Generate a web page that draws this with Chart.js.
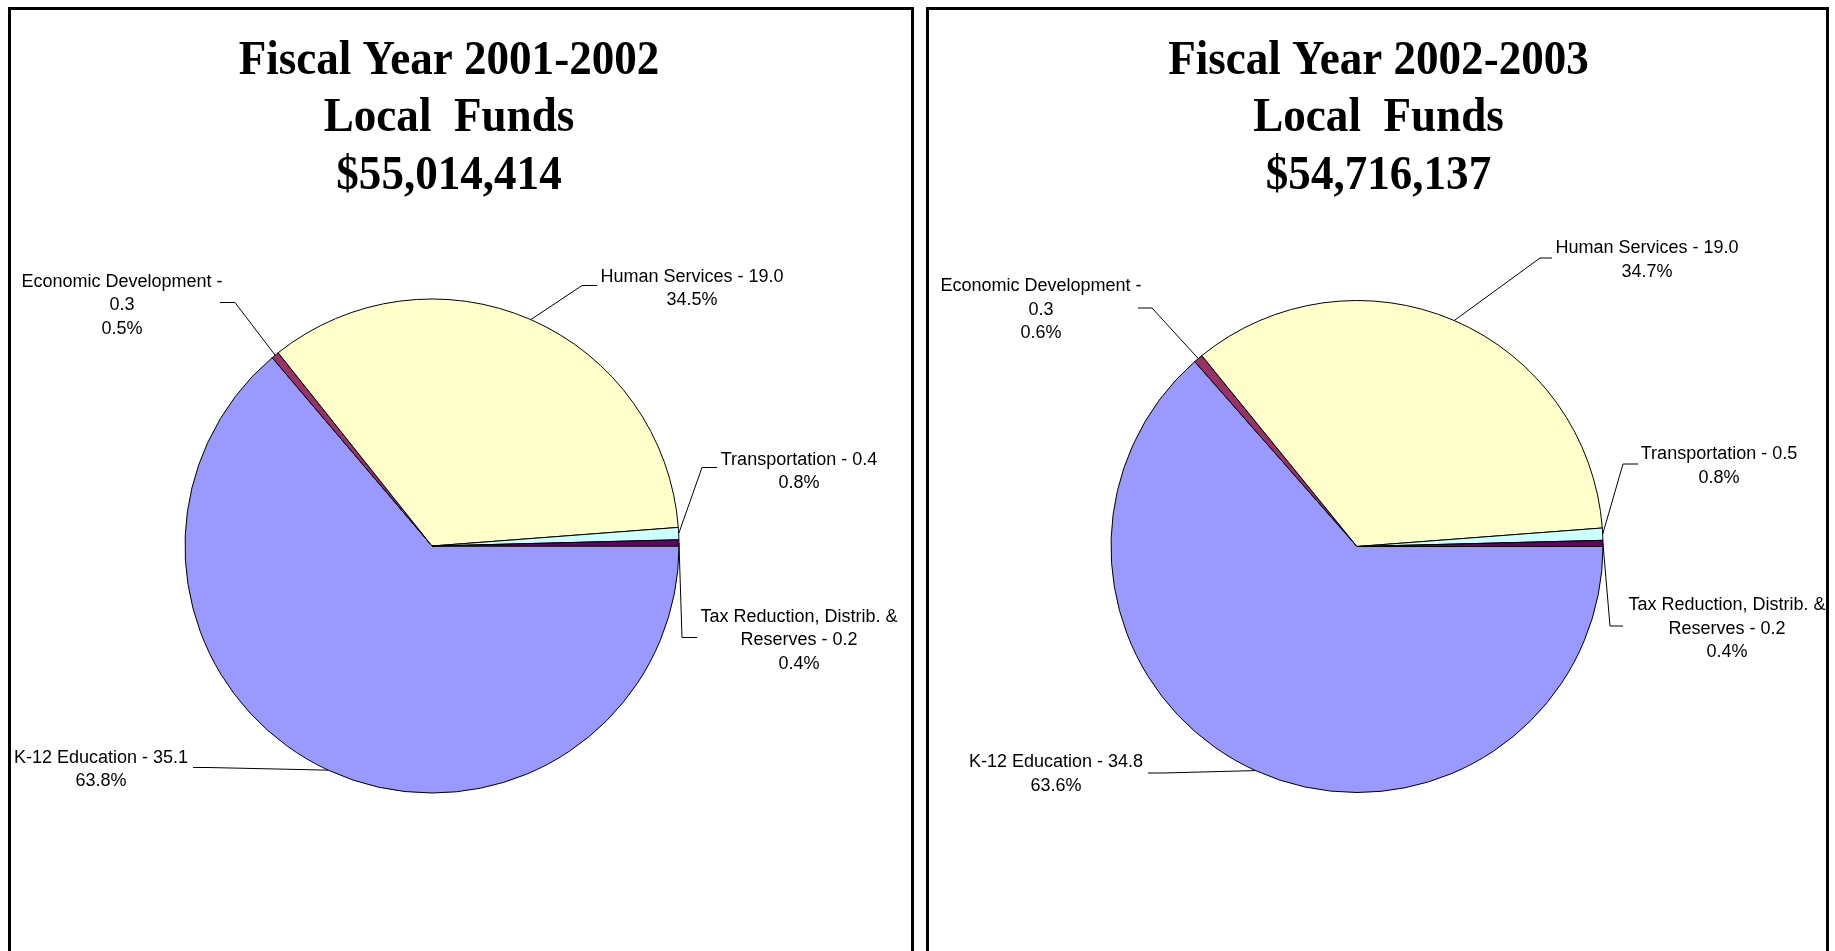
<!DOCTYPE html>
<html>
<head>
<meta charset="utf-8">
<script src="https://cdn.jsdelivr.net/npm/chart.js@4.4.1/dist/chart.umd.min.js"></script>
<style>
  html,body{margin:0;padding:0;background:#fff;overflow:hidden}
  body{width:1835px;height:951px;position:relative}
  .panel{position:absolute;top:7px;height:960px;border:3px solid #000;border-bottom:none;box-sizing:border-box}
  canvas{position:absolute;top:0}
</style>
</head>
<body>
<div class="panel" style="left:8px;width:906px"></div>
<div class="panel" style="left:926px;width:903px"></div>
<canvas id="fy01" width="920" height="951" style="left:0"></canvas>
<canvas id="fy02" width="915" height="951" style="left:920px"></canvas>
<script>
/* Local Funds by function, $ millions and share of total */
const CATS=['K-12 Education','Economic Development','Human Services','Transportation','Tax Reduction, Distrib. & Reserves'];
// how each category's label is wrapped in the picture ({v} = amount)
const CAT_LINES=[['K-12 Education - {v}'],['Economic Development -','{v}'],['Human Services - {v}'],
  ['Transportation - {v}'],['Tax Reduction, Distrib. &','Reserves - {v}']];
const COLORS=['#9999ff','#993366','#ffffcc','#ccffff','#660066'];

const FY01_TITLE=['Fiscal Year 2001-2002','Local  Funds','$55,014,414'];
const FY01_AMT=[35.1,0.3,19.0,0.4,0.2];
const FY01_PCT=[63.8,0.5,34.5,0.8,0.4];

const FY02_TITLE=['Fiscal Year 2002-2003','Local  Funds','$54,716,137'];
const FY02_AMT=[34.8,0.3,19.0,0.5,0.2];
const FY02_PCT=[63.6,0.6,34.7,0.8,0.4];

// label layout, offsets from pie centre: text centre, leader start, leader elbow
const LAY01=[
  {t:[-331,212],s:[-239,221],e:[-224,221]},
  {t:[-310,-264],s:[-212,-244],e:[-197,-244]},
  {t:[260,-269],s:[165,-261],e:[150,-261]},
  {t:[367,-86],s:[285,-79],e:[270,-79]},
  {t:[367,71],s:[265,91],e:[250,91]},
];
const LAY02=[
  {t:[-301,216],s:[-209,226],e:[-194,226]},
  {t:[-316,-260],s:[-219,-239],e:[-205,-239]},
  {t:[290,-298],s:[195,-289],e:[183,-289]},
  {t:[362,-92],s:[281,-83],e:[266,-83]},
  {t:[370,59],s:[266,79],e:[253,79]},
];

Chart.defaults.font.family='"Liberation Sans", Arial, sans-serif';

const labelPlugin={
  id:'pieLabels',
  afterDatasetsDraw(chart,args,o){
    const ctx=chart.ctx, arcs=chart.getDatasetMeta(0).data;
    ctx.save();
    // title, three lines; the original face is a narrow serif, so squeeze a bit
    ctx.fillStyle='#000'; ctx.textAlign='center'; ctx.textBaseline='middle';
    ctx.font='bold 49px "Liberation Serif", "Times New Roman", serif';
    o.title.forEach((l,i)=>{
      ctx.save(); ctx.translate(o.titleX,61+i*57.5); ctx.scale(.92,1);
      ctx.fillText(l,0,0); ctx.restore();
    });
    ctx.font='18px "Liberation Sans", Arial, sans-serif';
    arcs.forEach((a,i)=>{
      const p=a.getProps(['x','y','startAngle','endAngle','outerRadius'],true);
      const mid=(p.startAngle+p.endAngle)/2, L=o.lay[i];
      ctx.strokeStyle='#000'; ctx.lineWidth=1;
      ctx.beginPath();
      ctx.moveTo(p.x+L.s[0],p.y+L.s[1]+.5);
      ctx.lineTo(p.x+L.e[0],p.y+L.e[1]+.5);
      ctx.lineTo(p.x+Math.cos(mid)*p.outerRadius,p.y+Math.sin(mid)*p.outerRadius);
      ctx.stroke();
      const lines=CAT_LINES[i].map(s=>s.replace('{v}',o.amt[i].toFixed(1)));
      lines.push(o.pct[i].toFixed(1)+'%');
      lines.forEach((l,j)=>ctx.fillText(l,p.x+L.t[0],p.y+L.t[1]+j*23.5));
    });
    ctx.restore();
  }
};

function makePie(id,pct,amt,title,lay,pad,titleX){
  return new Chart(document.getElementById(id),{
    type:'pie',
    data:{labels:CATS,datasets:[{data:pct,backgroundColor:COLORS,borderColor:'#000',borderWidth:1}]},
    options:{
      responsive:false,animation:false,rotation:90,
      layout:{padding:pad},
      plugins:{legend:{display:false},tooltip:{enabled:false},
        pieLabels:{title,lay,amt,pct,titleX}}
    },
    plugins:[labelPlugin]
  });
}

// chart areas sized so the pies sit where they do in the picture
makePie('fy01',FY01_PCT,FY01_AMT,FY01_TITLE,LAY01,{left:184.5,top:298.5,right:240.5,bottom:157.5},449);
makePie('fy02',FY02_PCT,FY02_AMT,FY02_TITLE,LAY02,{left:190.5,top:300,right:231.5,bottom:158},458.5);
</script>
</body>
</html>
